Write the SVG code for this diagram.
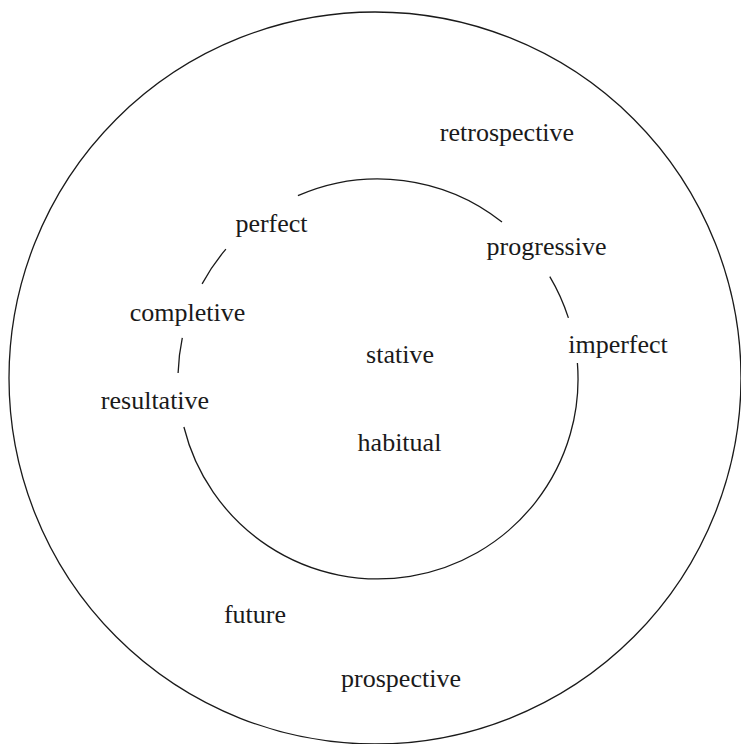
<svg xmlns="http://www.w3.org/2000/svg" width="741" height="744" viewBox="0 0 741 744">
<style>
.ln{fill:none;stroke:#1a1a1a;stroke-width:1.3}
.t{font-family:"Liberation Serif","Times New Roman",serif;font-size:26px;fill:#1a1a1a;text-anchor:middle}
</style>
<rect width="741" height="744" fill="#fff"/>
<g id="connectors">
<circle id="outer" class="ln" cx="375" cy="378" r="366"/>
<path class="ln" d="M297.9,195.7 A200,200 0 0 1 502,222"/>
<path class="ln" d="M549.8,276.6 A200,200 0 0 1 568.4,317.9"/>
<path class="ln" d="M577.4,363 A200,200 0 0 1 183.9,427"/>
<path class="ln" d="M178.1,373.1 A200,200 0 0 1 182.3,337.8"/>
<path class="ln" d="M202.1,283.9 A200,200 0 0 1 225.9,249.1"/>
</g>
<g id="retrospective"><text class="t" x="507" y="141">retrospective</text></g>
<g id="perfect"><text class="t" x="271.5" y="232">perfect</text></g>
<g id="progressive"><text class="t" x="546.5" y="255">progressive</text></g>
<g id="completive"><text class="t" x="187.5" y="321">completive</text></g>
<g id="imperfect"><text class="t" x="618" y="353">imperfect</text></g>
<g id="stative"><text class="t" x="400" y="363">stative</text></g>
<g id="resultative"><text class="t" x="155" y="409">resultative</text></g>
<g id="habitual"><text class="t" x="399.5" y="451">habitual</text></g>
<g id="future"><text class="t" x="255" y="623">future</text></g>
<g id="prospective"><text class="t" x="401" y="687">prospective</text></g>
</svg>
